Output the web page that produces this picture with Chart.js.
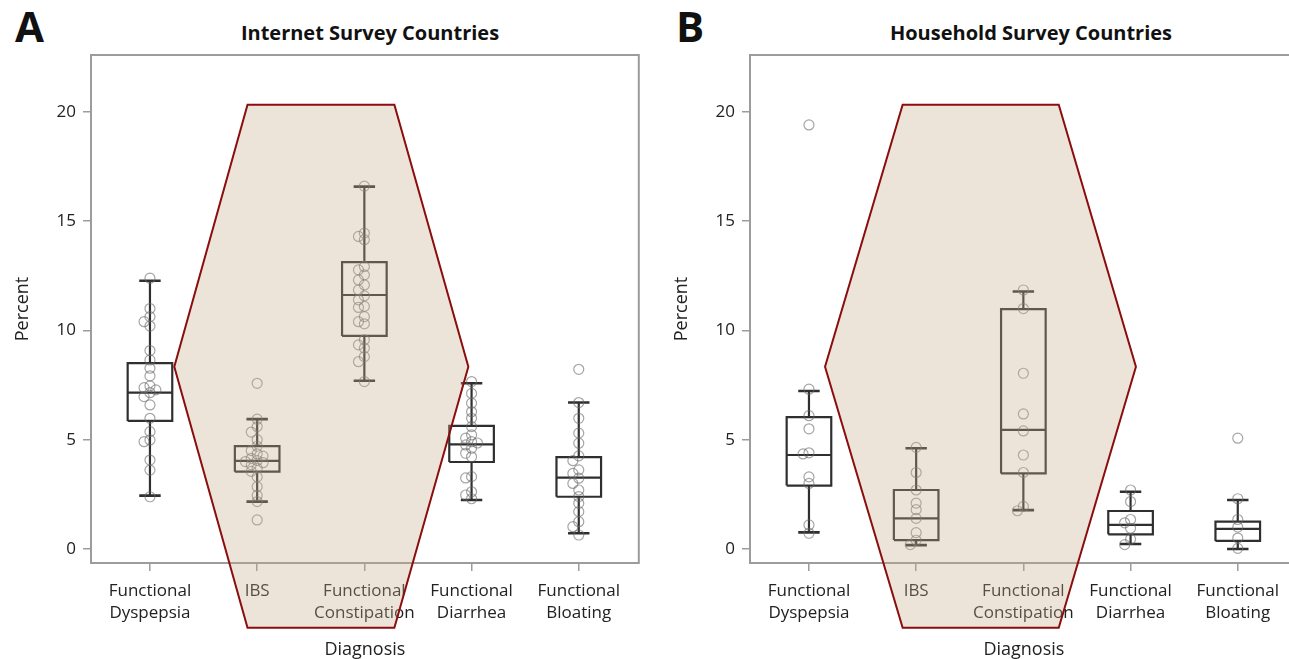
<!DOCTYPE html>
<html>
<head>
<meta charset="utf-8">
<script src="https://cdn.jsdelivr.net/npm/chart.js@4.4.1/dist/chart.umd.min.js"></script>
<style>
html, body { margin: 0; padding: 0; background: #fff; width: 1289px; height: 659px; overflow: hidden; position: relative; }
canvas { position: absolute; top: 0; }
.letter { position: absolute; top: 5px; font: bold 42px/42px "Open Sans", sans-serif; color: #111; }
.title { position: absolute; top: 23px; font: bold 20px/20px "Open Sans", sans-serif; color: #111; transform: translateX(-50%); white-space: nowrap; }
</style>
</head>
<body>
<div class="letter" style="left:15px">A</div>
<div class="title" style="left:370px">Internet Survey Countries</div>
<div class="letter" style="left:676px">B</div>
<div class="title" style="left:1031px">Household Survey Countries</div>
<canvas id="chartA" width="645" height="659" style="left:0"></canvas>
<canvas id="chartB" width="645" height="659" style="left:659px"></canvas>
<script>
const categories = [["Functional", "Dyspepsia"], ["IBS"], ["Functional", "Constipation"], ["Functional", "Diarrhea"], ["Functional", "Bloating"]];
const yTicks = [0, 5, 10, 15, 20];

// A: internet survey countries (box stats per diagnosis)
const internetWhiskerLow = [2.44, 2.17, 7.70, 2.24, 0.72];
const internetQ1 = [5.86, 3.54, 9.75, 3.98, 2.39];
const internetMedian = [7.15, 4.03, 11.62, 4.79, 3.27];
const internetQ3 = [8.50, 4.71, 13.12, 5.63, 4.20];
const internetWhiskerHigh = [12.27, 5.94, 16.58, 7.58, 6.70];

// A: country values
const internetDyspepsia = [12.39, 11.0, 10.63, 10.4, 10.2, 9.08, 8.65, 8.27, 7.92, 7.46, 7.38, 7.28, 7.15, 6.97, 6.59, 5.98, 5.37, 4.99, 4.91, 4.07, 3.61, 2.39];
const internetIBS = [7.58, 5.94, 5.6, 5.35, 5.0, 4.7, 4.5, 4.35, 4.25, 4.15, 4.05, 4.0, 3.95, 3.85, 3.7, 3.55, 3.3, 2.85, 2.45, 2.17, 1.33];
const internetConstipation = [16.6, 14.45, 14.3, 14.15, 12.92, 12.77, 12.54, 12.31, 12.08, 11.85, 11.58, 11.4, 11.1, 11.05, 10.63, 10.4, 10.3, 9.57, 9.34, 9.19, 8.8, 8.57, 7.66];
const internetDiarrhea = [7.66, 7.12, 6.67, 6.28, 5.98, 5.6, 5.22, 5.07, 4.91, 4.85, 4.76, 4.61, 4.38, 4.22, 3.31, 3.25, 2.62, 2.47, 2.3];
const internetBloating = [8.22, 6.7, 5.98, 5.3, 4.84, 4.26, 4.04, 3.62, 3.46, 3.24, 3.0, 2.7, 2.4, 2.09, 1.71, 1.25, 1.02, 0.64];

// B: household survey countries
const householdWhiskerLow = [0.76, 0.18, 1.78, 0.23, 0.0];
const householdQ1 = [2.9, 0.41, 3.46, 0.67, 0.37];
const householdMedian = [4.3, 1.4, 5.45, 1.1, 0.92];
const householdQ3 = [6.03, 2.7, 10.97, 1.74, 1.25];
const householdWhiskerHigh = [7.23, 4.61, 11.78, 2.62, 2.24];

const householdDyspepsia = [19.4, 7.31, 6.1, 5.5, 4.4, 4.35, 3.3, 3.0, 1.1, 0.72];
const householdIBS = [4.65, 3.5, 2.7, 2.1, 1.8, 1.4, 0.75, 0.4, 0.2];
const householdConstipation = [11.85, 11.0, 8.04, 6.18, 5.4, 4.3, 3.5, 1.95, 1.75];
const householdDiarrhea = [2.7, 2.17, 1.35, 1.2, 0.95, 0.45, 0.2];
const householdBloating = [5.07, 2.3, 1.35, 1.0, 0.5, 0.03];

// highlight polygon, in axis units (x = diagnosis index)
const hexY = [20.32, 20.32, 8.34, -3.6, -3.6, 8.34];
const internetHexX = [0.91, 2.28, 2.97, 2.28, 0.91, 0.227];
const householdHexX = [0.874, 2.33, 3.05, 2.33, 0.874, 0.15];

const FONT = "'Open Sans', sans-serif";
const BOX_HALF = 0.208;
const CAP_HALF = 0.1;

// spread overlapping points sideways a little (beeswarm style)
const swarm = (values, index) => {
	const placed = [];
	const slots = [0, -0.055, 0.055, -0.11, 0.11, -0.165, 0.165];
	values.forEach(v => {
		let dx = slots.find(s => placed.every(p => Math.hypot((p.x - index - s) * 108, (p.y - v) * 21.85) > 5.5));
		if (dx === undefined) dx = 0;
		placed.push({ x: index + dx, y: v });
	});
	return placed;
};

const box_lines = (lo, q1, med, q3, hi) => {
	const pts = [];
	for (let i = 0; i < q1.length; i++) {
		pts.push({ x: i - BOX_HALF, y: q1[i] }, { x: i + BOX_HALF, y: q1[i] }, { x: i + BOX_HALF, y: q3[i] },
			{ x: i - BOX_HALF, y: q3[i] }, { x: i - BOX_HALF, y: q1[i] }, { x: i, y: null });
		pts.push({ x: i - BOX_HALF, y: med[i] }, { x: i + BOX_HALF, y: med[i] }, { x: i, y: null });
		pts.push({ x: i, y: q3[i] }, { x: i, y: hi[i] }, { x: i, y: null });
		pts.push({ x: i, y: q1[i] }, { x: i, y: lo[i] }, { x: i, y: null });
	}
	return pts;
};

const cap_lines = (lo, hi) => {
	const pts = [];
	for (let i = 0; i < lo.length; i++) {
		pts.push({ x: i - CAP_HALF, y: hi[i] }, { x: i + CAP_HALF, y: hi[i] }, { x: i, y: null });
		pts.push({ x: i - CAP_HALF, y: lo[i] }, { x: i + CAP_HALF, y: lo[i] }, { x: i, y: null });
	}
	return pts;
};

const framePlugin = {
	id: 'frame',
	beforeDatasetsDraw(chart) {
		const a = chart.chartArea;
		const ctx = chart.ctx;
		ctx.save();
		ctx.strokeStyle = '#9c9c9c';
		ctx.lineWidth = 2;
		ctx.strokeRect(a.left, a.top, a.right - a.left, a.bottom - a.top);
		ctx.restore();
	}
};

const hexPlugin = {
	id: 'hex',
	afterDraw(chart, args, opts) {
		const xs = chart.scales.x, ys = chart.scales.y;
		const ctx = chart.ctx;
		ctx.save();
		ctx.beginPath();
		opts.xs.forEach((v, i) => {
			const px = xs.getPixelForValue(v), py = ys.getPixelForValue(opts.ys[i]);
			if (i === 0) ctx.moveTo(px, py); else ctx.lineTo(px, py);
		});
		ctx.closePath();
		ctx.fillStyle = 'rgba(196, 172, 140, 0.33)';
		ctx.fill();
		ctx.strokeStyle = '#8b0d0d';
		ctx.lineWidth = 2;
		ctx.stroke();
		ctx.restore();
	}
};

const make_panel = (id, groups, lo, q1, med, q3, hi, hexX) => {
	const points = [];
	groups.forEach((g, i) => points.push(...swarm(g, i)));
	new Chart(document.getElementById(id), {
		type: 'scatter',
		data: {
			datasets: [
				{
					type: 'scatter',
					data: points,
					pointRadius: 5,
					pointBorderWidth: 1.2,
					borderColor: 'rgba(105, 105, 105, 0.6)',
					pointBorderColor: 'rgba(105, 105, 105, 0.6)',
					backgroundColor: 'rgba(0,0,0,0)',
					pointBackgroundColor: 'rgba(0,0,0,0)'
				},
				{
					type: 'line',
					data: cap_lines(lo, hi),
					borderColor: '#2f2f2f',
					borderWidth: 2.6,
					pointRadius: 0,
					spanGaps: false,
					fill: false
				},
				{
					type: 'line',
					data: box_lines(lo, q1, med, q3, hi),
					borderColor: '#2f2f2f',
					borderWidth: 2.2,
					borderJoinStyle: 'miter',
					pointRadius: 0,
					spanGaps: false,
					fill: false
				}
			]
		},
		options: {
			responsive: false,
			animation: false,
			devicePixelRatio: 1,
			layout: { padding: { top: 55, right: 2, bottom: 0, left: 0 } },
			plugins: {
				legend: { display: false },
				tooltip: { enabled: false },
				hex: { xs: hexX, ys: hexY }
			},
			scales: {
				x: {
					type: 'linear',
					min: -0.55,
					max: 4.56,
					offset: false,
					afterBuildTicks: s => { s.ticks = categories.map((c, i) => ({ value: i })); },
					afterFit: s => { s.height = 96; },
					ticks: {
						autoSkip: false,
						maxRotation: 0,
						padding: 9,
						color: '#222',
						font: { family: FONT, size: 17, lineHeight: 1.3 },
						callback: v => categories[v]
					},
					grid: { display: true, drawOnChartArea: false, drawTicks: true, tickLength: 8, color: '#9c9c9c', lineWidth: 1.5 },
					border: { display: false },
					title: { display: true, text: 'Diagnosis', color: '#222', font: { family: FONT, size: 18, lineHeight: 1 }, padding: { top: 0, bottom: 0 } }
				},
				y: {
					type: 'linear',
					min: -0.64,
					max: 22.6,
					afterBuildTicks: s => { s.ticks = yTicks.map(v => ({ value: v })); },
					afterFit: s => { s.width = 91; },
					ticks: {
						padding: 7,
						color: '#222',
						font: { family: FONT, size: 17 }
					},
					grid: { display: true, drawOnChartArea: false, drawTicks: true, tickLength: 8, color: '#9c9c9c', lineWidth: 1.5 },
					border: { display: false },
					title: { display: true, text: 'Percent', color: '#222', font: { family: FONT, size: 18, lineHeight: 1.2 }, padding: { top: 12, bottom: 0 } }
				}
			}
		},
		plugins: [framePlugin, hexPlugin]
	});
};

make_panel('chartA',
	[internetDyspepsia, internetIBS, internetConstipation, internetDiarrhea, internetBloating],
	internetWhiskerLow, internetQ1, internetMedian, internetQ3, internetWhiskerHigh, internetHexX);

make_panel('chartB',
	[householdDyspepsia, householdIBS, householdConstipation, householdDiarrhea, householdBloating],
	householdWhiskerLow, householdQ1, householdMedian, householdQ3, householdWhiskerHigh, householdHexX);
</script>
</body>
</html>
